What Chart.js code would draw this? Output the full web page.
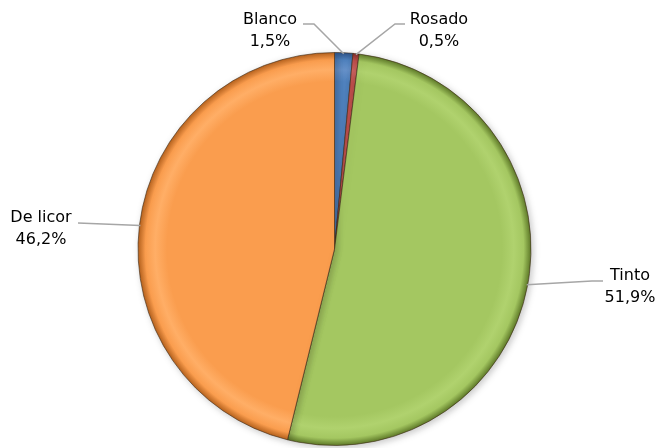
<!DOCTYPE html>
<html>
<head>
<meta charset="utf-8">
<script src="https://cdn.jsdelivr.net/npm/chart.js@4/dist/chart.umd.min.js"></script>
<style>
  html, body { margin: 0; padding: 0; background: #fff; }
  #wrap { width: 657px; height: 448px; position: relative; }
</style>
</head>
<body>
<div id="wrap"><canvas id="chart" width="657" height="448"></canvas></div>
<script>
// data
const categories = ["Blanco", "Rosado", "Tinto", "De licor"];
const shares = [1.5, 0.5, 51.9, 46.2];
const shareLabels = ["1,5%", "0,5%", "51,9%", "46,2%"];
const sliceColors = ["#4F81BD", "#C0504D", "#A4C761", "#FA9D4E"];
const lightColors = ["#6590C8", "#CC625F", "#B0D26E", "#FFAE66"];
const darkColors = ["#2C5184", "#7E2A28", "#5A7525", "#B25E1A"];

// label placement (text center + leader line start and elbow)
const labelSpots = [
  { x: 270, y: 20, lineFrom: [303, 24], elbow: [314, 24] },
  { x: 439, y: 20, lineFrom: [405, 24], elbow: [395, 24] },
  { x: 630, y: 276, lineFrom: [603, 281], elbow: [592, 281] },
  { x: 41, y: 218, lineFrom: [78, 223], elbow: [78, 223] }
];

function sliceFill(ctx) {
  const chart = ctx.chart;
  const a = chart.chartArea;
  if (!a) return sliceColors[ctx.dataIndex];
  const cx = (a.left + a.right) / 2, cy = (a.top + a.bottom) / 2;
  const r = Math.min(a.right - a.left, a.bottom - a.top) / 2;
  const g = chart.ctx.createRadialGradient(cx, cy, 0, cx, cy, r);
  const i = ctx.dataIndex;
  g.addColorStop(0, sliceColors[i]);
  g.addColorStop(0.85, sliceColors[i]);
  g.addColorStop(0.91, lightColors[i]);
  g.addColorStop(0.96, sliceColors[i]);
  g.addColorStop(1, darkColors[i]);
  return g;
}

const leaderPlugin = {
  id: "leaders",
  afterDatasetsDraw(chart) {
    const ctx = chart.ctx;
    const meta = chart.getDatasetMeta(0);
    ctx.save();
    meta.data.forEach((arc, i) => {
      const spot = labelSpots[i];
      const mid = (arc.startAngle + arc.endAngle) / 2;
      const px = arc.x + Math.cos(mid) * (arc.outerRadius - 1);
      const py = arc.y + Math.sin(mid) * (arc.outerRadius - 1);
      ctx.strokeStyle = "#A6A6A6";
      ctx.lineWidth = 1.5;
      ctx.beginPath();
      ctx.moveTo(spot.lineFrom[0], spot.lineFrom[1]);
      ctx.lineTo(spot.elbow[0], spot.elbow[1]);
      ctx.lineTo(px, py);
      ctx.stroke();

      ctx.fillStyle = "#000";
      ctx.font = "16px 'DejaVu Sans', sans-serif";
      ctx.textAlign = "center";
      ctx.textBaseline = "middle";
      ctx.fillText(categories[i], spot.x, spot.y);
      ctx.fillText(shareLabels[i], spot.x, spot.y + 22);
    });
    ctx.restore();
  }
};

const shadowPlugin = {
  id: "pieShadow",
  beforeDatasetsDraw(chart) {
    const ctx = chart.ctx;
    ctx.save();
    ctx.shadowColor = "rgba(0,0,0,0.22)";
    ctx.shadowBlur = 7;
    ctx.shadowOffsetX = 2;
    ctx.shadowOffsetY = 2;
  },
  afterDatasetsDraw(chart) {
    chart.ctx.restore();
  }
};

new Chart(document.getElementById("chart"), {
  type: "pie",
  data: {
    labels: categories,
    datasets: [{
      data: shares,
      backgroundColor: sliceFill,
      borderColor: "rgba(60,40,20,0.6)",
      borderWidth: 1
    }]
  },
  options: {
    responsive: false,
    animation: false,
    layout: { padding: { top: 52, bottom: 2, left: 12, right: 0 } },
    plugins: {
      legend: { display: false },
      tooltip: { enabled: false }
    }
  },
  plugins: [shadowPlugin, leaderPlugin]
});
</script>
</body>
</html>
